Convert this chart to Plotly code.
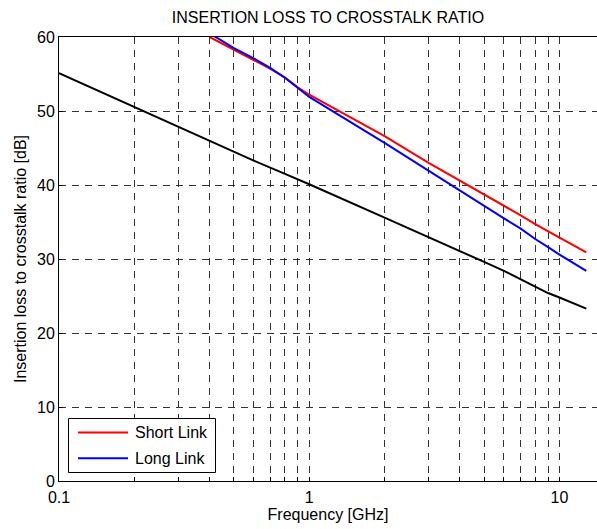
import plotly.graph_objects as go

# Frequency points [GHz] and measured ratios [dB]
freq_limit = [0.1, 0.2, 0.3, 0.4, 0.5, 0.6, 0.8, 1.0, 2.0, 3.0, 4.0, 5.0, 6.0, 7.0, 8.0, 9.0, 10.0, 12.8]
limit_db = [55.1, 50.5, 47.8, 45.9, 44.5, 43.3, 41.5, 40.1, 35.6, 32.9, 31.0, 29.6, 28.4, 27.3, 26.3, 25.4, 24.8, 23.3]

freq_link = [0.40, 0.45, 0.50, 0.60, 0.70, 0.80, 0.90, 1.0, 2.0, 3.0, 4.0, 5.0, 6.0, 7.0, 8.0, 9.0, 10.0, 12.8]
short_link_db = [60.0, 59.1, 58.3, 56.9, 55.7, 54.5, 53.2, 52.2, 46.6, 43.0, 40.6, 38.7, 37.2, 35.9, 34.7, 33.8, 32.9, 30.9]
long_link_db = [60.5, 59.5, 58.5, 57.1, 55.8, 54.5, 53.1, 51.9, 45.7, 41.9, 39.3, 37.2, 35.5, 34.1, 32.7, 31.6, 30.6, 28.4]

series_names = ["Short Link", "Long Link"]
series_colors = ["#ff0000", "#0000ff"]

x_tick_vals = [0.1, 0.2, 0.3, 0.4, 0.5, 0.6, 0.7, 0.8, 0.9,
               1, 2, 3, 4, 5, 6, 7, 8, 9, 10, 20]
x_tick_text = ["0.1", "", "", "", "", "", "", "", "",
               "1", "", "", "", "", "", "", "", "", "10", ""]
y_tick_vals = [0, 10, 20, 30, 40, 50, 60]

FONT = "Liberation Sans, Arial, Helvetica, sans-serif"
FS = 16

W, H = 597, 529
ML, MR, MT, MB = 59, 0, 37, 48
PW, PH = W - ML - MR, H - MT - MB


def px(x):
    """Horizontal pixel position -> paper fraction of the plot area."""
    return (x - ML) / PW


def py(y):
    """Vertical pixel position -> paper fraction of the plot area."""
    return (H - MB - y) / PH


fig = go.Figure()
fig.add_trace(go.Scatter(x=freq_limit, y=limit_db, mode="lines",
                         line=dict(color="black", width=2), showlegend=False))
for name, vals, col in zip(series_names, [short_link_db, long_link_db], series_colors):
    fig.add_trace(go.Scatter(x=freq_link, y=vals, mode="lines", name=name,
                             line=dict(color=col, width=2), showlegend=False))

# Boxed legend in the lower-left corner of the axes
shapes = [dict(type="rect", xref="paper", yref="paper",
               x0=px(68.5), x1=px(215.5), y0=py(472.5), y1=py(418.5),
               line=dict(color="black", width=1), fillcolor="white", layer="above")]
annotations = []
for i, (name, col) in enumerate(zip(series_names, series_colors)):
    yc = 432.5 + i * 25.8
    shapes.append(dict(type="line", xref="paper", yref="paper",
                       x0=px(78), x1=px(128), y0=py(yc), y1=py(yc),
                       line=dict(color=col, width=2), layer="above"))
    annotations.append(dict(text=name, xref="paper", yref="paper",
                            x=px(133), y=py(yc), xanchor="left", yanchor="middle",
                            showarrow=False, font=dict(family=FONT, size=FS, color="black")))

fig.update_layout(
    width=W, height=H,
    margin=dict(l=ML, r=MR, t=MT, b=MB),
    paper_bgcolor="white", plot_bgcolor="white",
    font=dict(family=FONT, size=FS, color="black"),
    title=dict(text="INSERTION LOSS TO CROSSTALK RATIO", x=(ML + W) / 2 / W,
               xanchor="center", y=1 - 17 / H, yanchor="middle",
               font=dict(family=FONT, size=FS, color="black")),
    showlegend=False,
    shapes=shapes,
    annotations=annotations,
)

fig.update_xaxes(
    type="log", range=[-1, 1.15],
    tickmode="array", tickvals=x_tick_vals, ticktext=x_tick_text,
    ticks="inside", ticklen=4, tickcolor="black",
    tickfont=dict(family=FONT, size=FS), ticklabelstandoff=2,
    showline=True, linecolor="black", linewidth=1, mirror=True,
    showgrid=True, gridcolor="#333333", gridwidth=1, griddash="7px,6px",
    zeroline=False,
    title=dict(text="Frequency [GHz]", standoff=3, font=dict(family=FONT, size=FS)),
)
fig.update_yaxes(
    range=[0, 60], tickmode="array", tickvals=y_tick_vals,
    ticks="inside", ticklen=4, tickcolor="black",
    tickfont=dict(family=FONT, size=FS),
    showline=True, linecolor="black", linewidth=1, mirror=False,
    showgrid=True, gridcolor="#333333", gridwidth=1, griddash="7px,6px",
    zeroline=False,
    title=dict(text="Insertion loss to crosstalk ratio [dB]", standoff=6,
               font=dict(family=FONT, size=FS)),
)

fig.write_html("out.html")
